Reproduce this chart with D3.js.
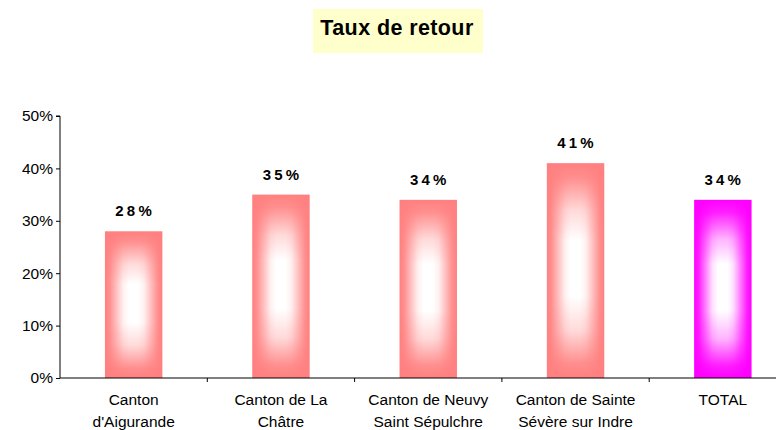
<!DOCTYPE html>
<html>
<head>
<meta charset="utf-8">
<script src="https://cdn.jsdelivr.net/npm/d3@7/dist/d3.min.js"></script>
<style>
  html, body { margin: 0; padding: 0; background: #fff; }
  svg { display: block; font-family: "Liberation Sans", Arial, sans-serif; }
</style>
</head>
<body>
<svg id="chart" width="776" height="430"></svg>
<script>
// Return rate per canton
const categories = [
  ["Canton", "d'Aigurande"],
  ["Canton de La", "Châtre"],
  ["Canton de Neuvy", "Saint Sépulchre"],
  ["Canton de Sainte", "Sévère sur Indre"],
  ["TOTAL"]
];
const values = [0.28, 0.35, 0.34, 0.41, 0.34];
const valueLabels = ["28%", "35%", "34%", "41%", "34%"];
const yTicks = [0, 0.1, 0.2, 0.3, 0.4, 0.5];
const edgeColors = ["#ff8080", "#ff8080", "#ff8080", "#ff8080", "#ff00ff"];
const title = "Taux de retour";

const svg = d3.select("#chart");
const W = 776, H = 430;
const margin = { left: 60, top: 116, bottom: 52 };
const plotRight = 796.5;

const x = d3.scaleBand()
  .domain(d3.range(categories.length))
  .range([margin.left, plotRight])
  .paddingInner(0.61).paddingOuter(0.305);
const bandStep = x.step();

const y = d3.scaleLinear().domain([0, 0.5]).range([H - margin.bottom, margin.top]);

// Title with pale yellow box
const tg = svg.append("g");
tg.append("rect").attr("x", 313).attr("y", 9).attr("width", 170).attr("height", 44)
  .attr("fill", "#ffffcc");
tg.append("text").attr("x", 397).attr("y", 35).attr("text-anchor", "middle")
  .attr("font-size", 21.5).attr("font-weight", "bold").attr("letter-spacing", 0.4)
  .attr("fill", "#000").text(title);

// Bar fill: edge colour fading to a white core; the white layer is masked by
// the product of a horizontal and a vertical luminance profile.
const defs = svg.append("defs");
function lumGradient(id, horizontal, stops) {
  const g = defs.append("linearGradient").attr("id", id)
    .attr("x1", 0).attr("y1", 0).attr("x2", horizontal ? 1 : 0).attr("y2", horizontal ? 0 : 1);
  stops.forEach(([o, l]) => g.append("stop").attr("offset", o)
    .attr("stop-color", d3.rgb(255 * l, 255 * l, 255 * l)));
}
lumGradient("lumH", true, [[0, 0], [0.08, 0.12], [0.2, 0.5], [0.32, 0.88], [0.42, 1],
  [0.58, 1], [0.68, 0.88], [0.8, 0.5], [0.92, 0.12], [1, 0]]);
lumGradient("lumV", false, [[0, 0], [0.07, 0.12], [0.22, 0.7], [0.36, 1], [0.62, 1],
  [0.78, 0.7], [0.93, 0.12], [1, 0]]);
["H", "V"].forEach(k => {
  defs.append("mask").attr("id", "mask" + k)
    .attr("maskContentUnits", "objectBoundingBox")
    .append("rect").attr("width", 1).attr("height", 1).attr("fill", `url(#lum${k})`);
});

const bars = svg.append("g").selectAll("g").data(values).join("g");
bars.each(function(v, i) {
  const g = d3.select(this);
  const bx = x(i), bw = x.bandwidth(), by = y(v), bh = y(0) - y(v);
  g.append("rect").attr("x", bx).attr("y", by).attr("width", bw).attr("height", bh)
    .attr("fill", edgeColors[i]);
  g.append("g").attr("mask", "url(#maskH)")
    .append("rect").attr("x", bx).attr("y", by).attr("width", bw).attr("height", bh)
    .attr("fill", "#fff").attr("mask", "url(#maskV)");
});

// Value labels
svg.append("g").selectAll("text").data(values).join("text")
  .attr("x", (d, i) => x(i) + x.bandwidth() / 2 + 1.5)
  .attr("y", d => y(d) - 15)
  .attr("text-anchor", "middle")
  .attr("font-size", 15).attr("font-weight", "bold").attr("letter-spacing", 3.2)
  .attr("fill", "#000")
  .text((d, i) => valueLabels[i]);

// Y axis
const yAxis = svg.append("g").attr("transform", `translate(${margin.left},0)`)
  .call(d3.axisLeft(y).tickValues(yTicks).tickFormat(d3.format(".0%")).tickSize(4).tickPadding(3));
yAxis.select(".domain").attr("stroke", "#000").attr("d", `M-4,${y(0.5)}H0V${y(0)}`);
yAxis.selectAll("text").attr("font-size", 15.5).attr("fill", "#000")
  .attr("font-family", "Liberation Sans, Arial, sans-serif");

// X axis with ticks at category boundaries
const xg = svg.append("g");
xg.append("line").attr("x1", margin.left).attr("x2", W).attr("y1", y(0)).attr("y2", y(0))
  .attr("stroke", "#000");
xg.selectAll("line.tick").data(d3.range(1, categories.length)).join("line")
  .attr("class", "tick")
  .attr("x1", i => margin.left + i * bandStep).attr("x2", i => margin.left + i * bandStep)
  .attr("y1", y(0)).attr("y2", y(0) + 4).attr("stroke", "#000");

const labels = xg.selectAll("text").data(categories).join("text")
  .attr("x", (d, i) => x(i) + x.bandwidth() / 2)
  .attr("text-anchor", "middle").attr("font-size", 15.5).attr("fill", "#000");
labels.selectAll("tspan").data(d => d).join("tspan")
  .attr("x", function() { return d3.select(this.parentNode).attr("x"); })
  .attr("y", (d, j) => 405 + j * 22)
  .text(d => d);
</script>
</body>
</html>
